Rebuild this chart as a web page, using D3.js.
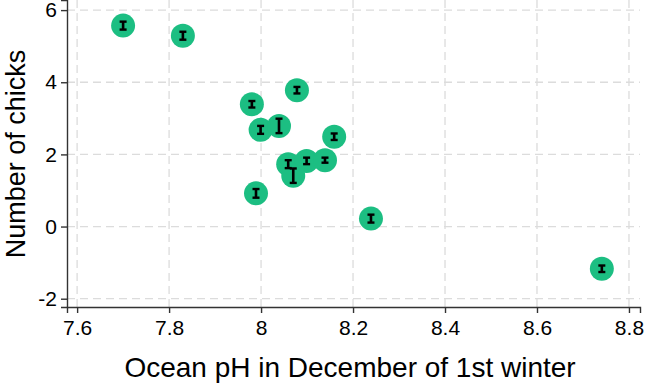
<!DOCTYPE html>
<html>
<head>
<meta charset="utf-8">
<script src="https://cdn.jsdelivr.net/npm/d3@7"></script>
<style>
  body { margin: 0; background: #fff; }
  svg text { font-family: "Liberation Sans", Arial, sans-serif; fill: #000; }
</style>
</head>
<body>
<div id="chart"></div>
<script>
var ph = [7.70, 7.83, 8.078, 7.98, 7.999, 8.039, 8.159, 8.059, 8.099, 8.139, 8.070, 7.989, 8.239, 8.741];
var chicks = [5.57, 5.29, 3.78, 3.39, 2.68, 2.79, 2.49, 1.73, 1.82, 1.84, 1.41, 0.92, 0.22, -1.17];
var err = [0.11, 0.11, 0.09, 0.09, 0.11, 0.2, 0.09, 0.11, 0.09, 0.07, 0.2, 0.12, 0.11, 0.09];
var xTicks = [7.6, 7.8, 8, 8.2, 8.4, 8.6, 8.8];
var yTicks = [-2, 0, 2, 4, 6];

var svg = d3.select("#chart").append("svg").attr("width", 645).attr("height", 383),
    margin = { top: 0, right: 5, bottom: 76, left: 67 },
    width = 645 - margin.left - margin.right,
    height = 383 - margin.top - margin.bottom,
    g = svg.append("g").attr("transform", "translate(" + margin.left + "," + margin.top + ")");

var x = d3.scaleLinear().domain([7.578, 8.824]).range([0, width]);
var y = d3.scaleLinear().domain([-2.23, 6.28]).range([height, 0]);

// dashed grid
g.selectAll(".vgrid").data(xTicks).enter().append("line")
    .attr("x1", d => x(d)).attr("x2", d => x(d))
    .attr("y1", 0).attr("y2", height)
    .attr("stroke", "#dcdcdc").attr("stroke-width", 1.3).attr("stroke-dasharray", "8,5");
g.selectAll(".hgrid").data(yTicks).enter().append("line")
    .attr("x1", 0).attr("x2", width)
    .attr("y1", d => y(d)).attr("y2", d => y(d))
    .attr("stroke", "#dcdcdc").attr("stroke-width", 1.3).attr("stroke-dasharray", "8,5");

// axes
var xAxis = g.append("g").attr("transform", "translate(0," + height + ")")
    .call(d3.axisBottom(x).tickValues(xTicks).tickSize(6).tickPadding(7).tickFormat(d3.format("")));
var yAxis = g.append("g")
    .call(d3.axisLeft(y).tickValues(yTicks).tickSize(6).tickPadding(4).tickFormat(d3.format("")));
[xAxis, yAxis].forEach(function (a) {
    a.select(".domain").attr("stroke", "#333").attr("stroke-width", 1.4);
    a.selectAll(".tick line").attr("stroke", "#333").attr("stroke-width", 1.4);
    a.selectAll("text").attr("font-size", 21).attr("font-family", "Liberation Sans, Arial, sans-serif").attr("fill", "#000");
});
// hyphen-minus style for negatives
yAxis.selectAll("text").text(d => d < 0 ? "-" + Math.abs(d) : d);

// points
var pts = ph.map((d, i) => ({ x: d, y: chicks[i], e: err[i] }));
g.selectAll(".pt").data(pts).enter().append("circle")
    .attr("cx", d => x(d.x)).attr("cy", d => y(d.y)).attr("r", 12)
    .attr("fill", "#1cbe82");

// error bars
var eb = g.selectAll(".eb").data(pts).enter().append("g");
eb.append("line")
    .attr("x1", d => x(d.x)).attr("x2", d => x(d.x))
    .attr("y1", d => y(d.y - d.e)).attr("y2", d => y(d.y + d.e))
    .attr("stroke", "#000").attr("stroke-width", 2.6);
eb.append("line")
    .attr("x1", d => x(d.x) - 3.5).attr("x2", d => x(d.x) + 3.5)
    .attr("y1", d => y(d.y + d.e)).attr("y2", d => y(d.y + d.e))
    .attr("stroke", "#000").attr("stroke-width", 2.4);
eb.append("line")
    .attr("x1", d => x(d.x) - 3.5).attr("x2", d => x(d.x) + 3.5)
    .attr("y1", d => y(d.y - d.e)).attr("y2", d => y(d.y - d.e))
    .attr("stroke", "#000").attr("stroke-width", 2.4);

// axis titles
svg.append("text")
    .attr("x", margin.left + x(8.2) - 3).attr("y", 377)
    .attr("text-anchor", "middle").attr("font-size", 28)
    .text("Ocean pH in December of 1st winter");
svg.append("text")
    .attr("transform", "translate(25,154) rotate(-90)")
    .attr("text-anchor", "middle").attr("font-size", 27)
    .text("Number of chicks");
</script>
</body>
</html>
